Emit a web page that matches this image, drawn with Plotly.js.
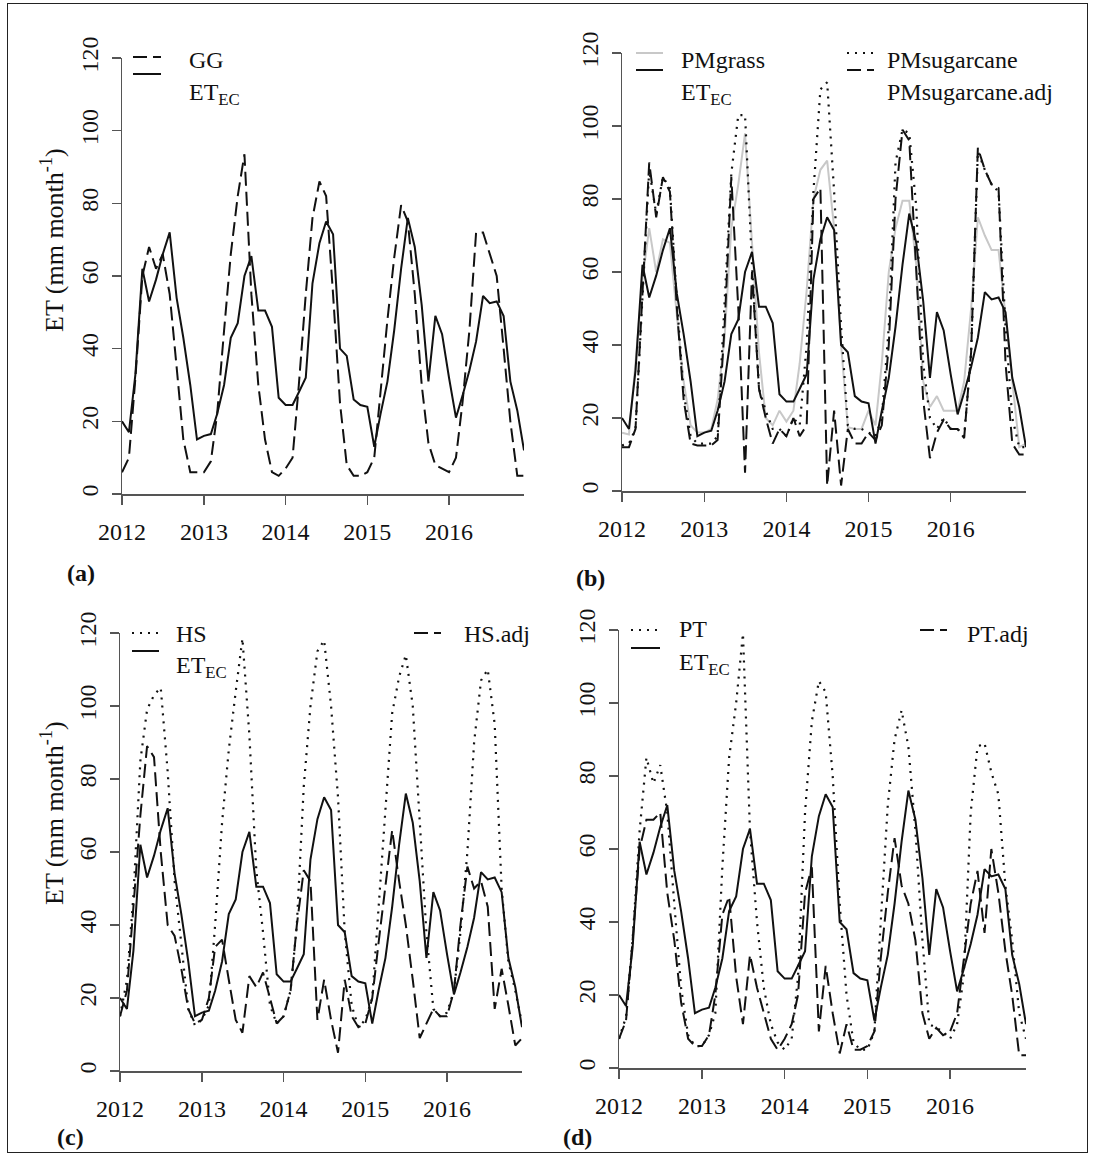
<!DOCTYPE html>
<html><head><meta charset="utf-8">
<script src="https://cdn.plot.ly/plotly-3.0.1.min.js"></script>
<style>
html,body{margin:0;padding:0;background:#fff;}
#wrap{position:relative;width:1094px;height:1159px;overflow:hidden;}
#chart{position:absolute;left:0;top:0;width:1094px;height:1159px;}
#frame{position:absolute;left:7px;top:3px;width:1081px;height:1150px;box-sizing:border-box;border:1.5px solid #222;pointer-events:none;}
</style></head>
<body><div id="wrap"><div id="chart"></div><div id="frame"></div></div>
<script>
// ---- categories (monthly, Jan 2012 - Dec 2016) ----
const months = [
 '2012-01','2012-02','2012-03','2012-04','2012-05','2012-06','2012-07','2012-08','2012-09','2012-10','2012-11','2012-12',
 '2013-01','2013-02','2013-03','2013-04','2013-05','2013-06','2013-07','2013-08','2013-09','2013-10','2013-11','2013-12',
 '2014-01','2014-02','2014-03','2014-04','2014-05','2014-06','2014-07','2014-08','2014-09','2014-10','2014-11','2014-12',
 '2015-01','2015-02','2015-03','2015-04','2015-05','2015-06','2015-07','2015-08','2015-09','2015-10','2015-11','2015-12',
 '2016-01','2016-02','2016-03','2016-04','2016-05','2016-06','2016-07','2016-08','2016-09','2016-10','2016-11','2016-12'];

// ---- tick labels ----
const yearTicks = ['2012-01-01','2013-01-01','2014-01-01','2015-01-01','2016-01-01'];
const yearLabels = ['2012','2013','2014','2015','2016'];
const etTicks = [0,20,40,60,80,100,120];
const etLabels = ['0','20','40','60','80','100','120'];

// ---- series (mm month-1) ----
const ET_EC = [20,17,33,62,53,59,66,72,54,43,30,15,
  16,16.5,22,30,43,47,60,65.5,50.5,50.5,46,26.5,
  24.5,24.5,28,32,58,69,75,71.5,40,38,26,24.5,
  24,13,22,31,45,62,76,68,52,31,49,44,
  32,21,27,34,42,54.5,52.5,53,49,31,23,12];
const GG = [6,10,32,60,68,62,66,55,35,15,6,6,
  6,9,22,45,66,82,93.5,55,30,15,6,5,
  7,10,30,55,76,86,82,55,25,8,5,5,
  6,10,28,48,65,79.5,75,55,30,14,8,7,
  6,10,25,45,72,72,66,60,40,20,5,5];
const PMgrass = [16,15.5,35,58,72,60,69,68,48,30,18,16,
  16,17,25,42,72,84,98,68,38,20,18,22,
  19,22,35,55,80,88,90.5,72,40,17.5,17,17,
  22,18,35,60,72,79.5,79.5,62,30,23,26,22,
  22,22,30,50,75,70,66,66,48,30,12,13];
const PMsugarcane = [12.5,13,17,55,88,76,86,83,52,27,15,13,
  13,13,15,50,87,103,103,62,28,22,17,17,
  15,20,18,40,82,110,112,82,45,18,17,17,
  16,15,20,45,90,99,98,78,35,20,17,20,
  17,17,15,38,93,88,84,82,45,20,12,12];
const PMsugarcaneAdj = [12,12,17,55,90,75,86,82,50,25,13,12.5,
  12.5,12.5,14,45,86,50,5,60,28,20,13,17,
  15,20,15,18,80,83,1.5,22,1.5,17,13,13,
  16,14,18,40,80,99,96,60,25,9,16,19.5,
  17,17,14.5,38,94,88,84,83,35,13,10,10];
const HS = [15,25,48,85,99,103,105,82,52,35,17,12.5,
  14,18,40,68,88,104,118.5,92,55,38,18,13,
  15,22,40,78,100,115,118,100,75,38,18,12,
  14,20,45,72,98,108,114,100,70,38,17,15,
  16,22,38,60,90,107,110,95,50,30,22,13];
const HSadj = [15,22,45,70,89,86,60,40,37,28,17,13,
  14,20,34,36,25,14,10.5,26,23,27,20,13,
  15,22,40,55,52,14,25,14,5,25,15,12,
  13,20,35,50,66,52,40,25,9,13,17,15,
  15,22,40,56,50,52,45,17,28,18,7,9];
const PT = [8,14,35,65,85,78,83,70,45,22,9,6,
  6,9,15,55,85,100,119,65,40,22,12,7,
  5,8,25,70,95,106,103,80,45,20,7,5,
  5,10,40,72,90,98,88,65,35,12,11,10,
  8,12,25,70,88,89,81,75,50,35,15,8];
const PTadj = [8,13,35,60,68,68,70,48,35,18,8,6,
  6,9,20,42,47,25,12,31,22,15,8,5,
  8,12,20,48,55,10,28,15,4,12,5,5,
  6,10,30,48,63,50,45,35,15,8,11,9,
  10,15,30,45,54,37,60,48,32,20,3.5,3.5];

// ---- layout helpers ----
const W = 1094, H = 1159;
const fx = p => p / W;
const fy = p => 1 - p / H;
const FONT = '"Liberation Serif", "Times New Roman", serif';
const INK = '#111';
const AX = '#555';

const P = {
  a: {x0:122, x1:524, y0:58, y1:494},
  b: {x0:622, x1:1026, y0:53, y1:491},
  c: {x0:120, x1:522, y0:633, y1:1071},
  d: {x0:619, x1:1026, y0:630, y1:1068}
};

function xAxis(p, anchor) {
  return {domain:[fx(p.x0), fx(p.x1)], anchor:anchor, type:'date',
    range:['2012-01-01','2016-12-01'], tickmode:'array', tickvals:yearTicks, ticktext:yearLabels,
    ticks:'outside', ticklen:9, tickwidth:1.5, tickcolor:AX,
    showline:true, linecolor:AX, linewidth:1.5, showgrid:false, zeroline:false,
    tickfont:{family:FONT, size:24, color:INK}, ticklabelstandoff:7, fixedrange:true};
}
function yAxis(p, anchor) {
  return {domain:[fy(p.y1), fy(p.y0)], anchor:anchor, range:[0,120],
    tickmode:'array', tickvals:etTicks, ticktext:etLabels, tickangle:-90,
    ticks:'outside', ticklen:9, tickwidth:1.5, tickcolor:AX,
    showline:true, linecolor:AX, linewidth:1.5, showgrid:false, zeroline:false,
    tickfont:{family:FONT, size:24, color:INK}, ticklabelstandoff:4, fixedrange:true};
}

const SOLID = {color:INK, width:2, dash:'solid'};
const LONG = {color:INK, width:2, dash:'14px,6px'};
const DOT = {color:INK, width:2.2, dash:'2px,6px'};
const GRAY = {color:'#c8c8c8', width:2, dash:'solid'};

function tr(y, xa, ya, line) {
  return {type:'scatter', mode:'lines', x:months, y:y, xaxis:xa, yaxis:ya,
    line:line, showlegend:false, hoverinfo:'skip'};
}
const data = [
  tr(GG, 'x', 'y', LONG),
  tr(ET_EC, 'x', 'y', SOLID),
  tr(PMgrass, 'x2', 'y2', GRAY),
  tr(PMsugarcane, 'x2', 'y2', DOT),
  tr(PMsugarcaneAdj, 'x2', 'y2', LONG),
  tr(ET_EC, 'x2', 'y2', SOLID),
  tr(HS, 'x3', 'y3', DOT),
  tr(HSadj, 'x3', 'y3', LONG),
  tr(ET_EC, 'x3', 'y3', SOLID),
  tr(PT, 'x4', 'y4', DOT),
  tr(PTadj, 'x4', 'y4', LONG),
  tr(ET_EC, 'x4', 'y4', SOLID)
];

// legend entries (R-style keys): [label, style, key x0, key x1, key y, text left, text centre y] in px
const ETN = 'ET<sub>EC</sub>';
const legendEntries = [
  ['GG', LONG, 133, 161, 57, 187, 60],
  [ETN, SOLID, 133, 161, 74, 187, 94],
  ['PMgrass', GRAY, 636, 663, 53, 679, 60],
  [ETN, SOLID, 636, 663, 70, 679, 94],
  ['PMsugarcane', DOT, 847, 874, 53, 885, 60],
  ['PMsugarcane.adj', LONG, 847, 874, 70, 885, 92],
  ['HS', DOT, 132, 159, 633, 174, 634],
  [ETN, SOLID, 132, 159, 651, 174, 667],
  ['HS.adj', LONG, 414, 441, 633, 462, 634],
  ['PT', DOT, 631, 660, 630, 677, 629],
  [ETN, SOLID, 631, 660, 648, 677, 664],
  ['PT.adj', LONG, 920, 947, 630, 965, 634]
];

const shapes = legendEntries.map(e => ({type:'line', xref:'paper', yref:'paper',
  x0:fx(e[2]), x1:fx(e[3]), y0:fy(e[4]), y1:fy(e[4]),
  line:{color:e[1].color, width:e[1].width, dash:e[1].dash}}));

const txt = (text, cx, cy, opts) => Object.assign({text:text, xref:'paper', yref:'paper',
  x:fx(cx), y:fy(cy), xanchor:'center', yanchor:'middle', showarrow:false,
  font:{family:FONT, size:24, color:INK}}, opts || {});

const annotations = legendEntries.map(e => txt(e[0], e[5], e[6], {xanchor:'left'}));
annotations.push(txt('<b>(a)</b>', 81, 573), txt('<b>(b)</b>', 590, 578),
                 txt('<b>(c)</b>', 71, 1137), txt('<b>(d)</b>', 577, 1137));
const YT = 'ET (mm month<sup>-1</sup>)';
annotations.push(txt(YT, 52, 240, {textangle:-90, font:{family:FONT, size:26, color:INK}}),
                 txt(YT, 52, 813, {textangle:-90, font:{family:FONT, size:26, color:INK}}));

const layout = {
  width:W, height:H, margin:{l:0, r:0, t:0, b:0},
  paper_bgcolor:'#fff', plot_bgcolor:'rgba(0,0,0,0)', showlegend:false,
  xaxis:xAxis(P.a, 'y'), yaxis:yAxis(P.a, 'x'),
  xaxis2:xAxis(P.b, 'y2'), yaxis2:yAxis(P.b, 'x2'),
  xaxis3:xAxis(P.c, 'y3'), yaxis3:yAxis(P.c, 'x3'),
  xaxis4:xAxis(P.d, 'y4'), yaxis4:yAxis(P.d, 'x4'),
  shapes:shapes, annotations:annotations
};

Plotly.newPlot('chart', data, layout, {staticPlot:true, displayModeBar:false});
</script>
</body></html>
